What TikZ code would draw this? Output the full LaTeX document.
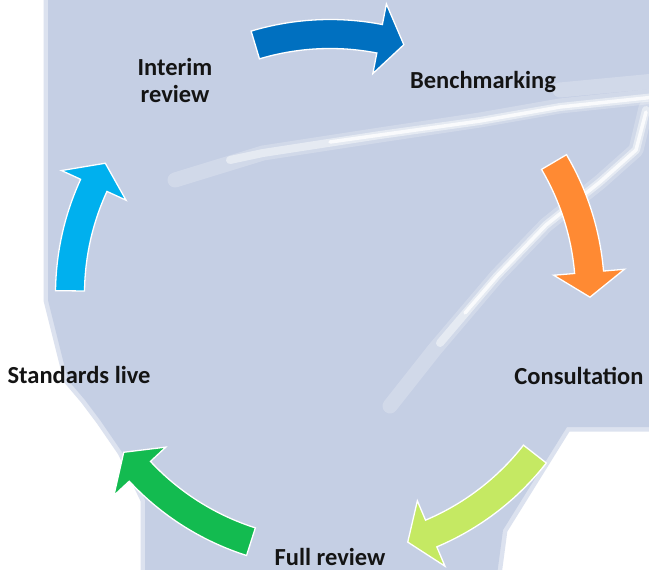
\documentclass[tikz,border=0pt]{standalone}
\usepackage{fontspec}
\setmainfont{Carlito}
\definecolor{bgblue}{HTML}{C5CFE4}
\definecolor{arBlue}{HTML}{0070C0}
\definecolor{arOrange}{HTML}{FF8A33}
\definecolor{arLime}{HTML}{C5E963}
\definecolor{arGreen}{HTML}{13BB50}
\definecolor{arSky}{HTML}{00B0EE}
\newcommand{\cycArrow}[3]{%
  \pgfmathsetmacro{\aS}{#2-90}%
  \pgfmathsetmacro{\aH}{#3-5.5-90}%
  \pgfmathsetmacro{\aT}{#3-90}%
  \fill[cyarrow, fill=#1] (\aS:274.5) arc[start angle=\aS, end angle=\aH, radius=274.5]
    -- (\aH:295.5) -- (\aT:260) -- (\aH:224.5) -- (\aH:245.5)
    arc[start angle=\aH, end angle=\aS, radius=245.5] -- cycle;}
\begin{document}
\begin{tikzpicture}[x=1pt,y=-1pt,
  lbl/.style={font=\fontsize{24.5}{27}\selectfont\bfseries, text=black!92, inner sep=0pt, anchor=base},
  cyarrow/.style={draw=white, line width=1.3pt, line join=miter},
  streakwide/.style={white, opacity=0.22, line width=15pt, line cap=round, line join=round},
  streakmid/.style={white, opacity=0.45, line width=8pt, line cap=round, line join=round},
  streak/.style={white, opacity=0.8, line width=3.5pt, line cap=round, line join=round}]
\useasboundingbox (0,0) rectangle (649,570);
\fill[white] (0,0) rectangle (649,570);
% background blob
\def\blob{(48,-5) -- (655,-5) -- (655,427) -- (567,427) -- (503,530) -- (497,575) -- (145,575) -- (145,500) -- (122,452) -- (100,420) -- (85,400) -- (68,380) -- (58,340) -- (48,300) -- cycle}
\draw[bgblue!60!white, line width=9pt, line join=round] \blob;
\fill[bgblue] \blob;
% streaks
\draw[streakwide] (175,180) -- (263,153) -- (380,135) -- (480,120) -- (560,106) -- (655,96);
\draw[streakmid] (230,160) -- (263,153) -- (380,135) -- (480,121) -- (560,107) -- (655,97);
\draw[streak] (330,142) -- (380,135) -- (480,121) -- (560,107) -- (655,97);
\draw[streakwide] (560,90) -- (655,81);
\draw[streakwide] (646,108) -- (636,150) -- (600,182) -- (546,225) -- (497,276) -- (435,349) -- (390,406);
\draw[streakmid] (646,110) -- (636,150) -- (600,182) -- (546,225) -- (497,276) -- (440,343);
\draw[streak] (646,112) -- (636,150) -- (600,182) -- (546,225) -- (497,276) -- (465,313);
% labels
\node[lbl, align=center] (interim) at (175,102) {Interim\\review};
\node[lbl] (bench) at (483,88) {Benchmarking};
\node[lbl] (consult) at (579,384) {Consultation};
\node[lbl] (full) at (330,565) {Full review};
\node[lbl] (live) at (79,383) {Standards live};
% cycle arrows
\coordinate (cyc) at (330,294);
\begin{scope}[shift={(cyc)}]
  \cycArrow{arBlue}{-16.7}{16.5}
  \cycArrow{arOrange}{59.5}{90.7}
  \cycArrow{arLime}{128}{162.6}
  \cycArrow{arGreen}{197.7}{232.5}
  \cycArrow{arSky}{270.7}{300.2}
\end{scope}
\end{tikzpicture}
\end{document}
